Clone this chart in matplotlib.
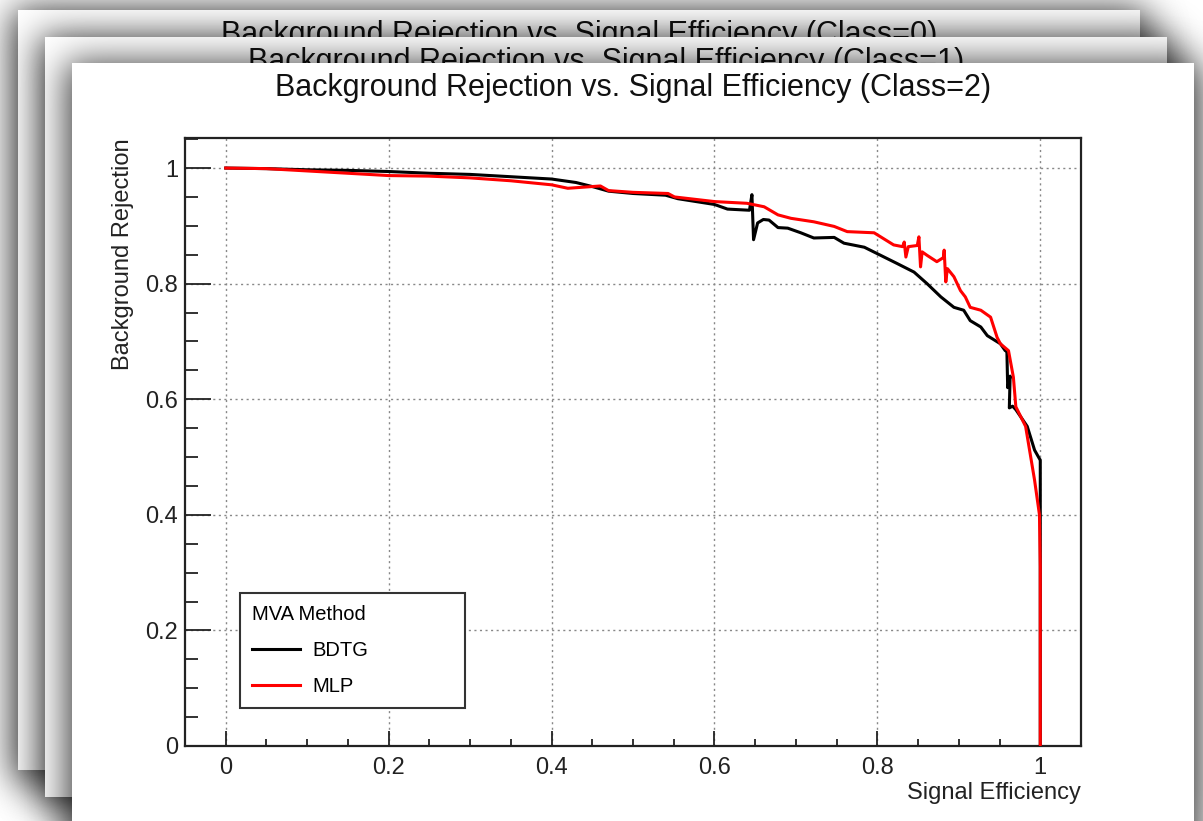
import numpy as np
import matplotlib
matplotlib.use("Agg")
import matplotlib.pyplot as plt
from matplotlib.patches import Rectangle
from matplotlib.ticker import MultipleLocator

# ROC curves
bdtg_x = [0.0, 0.05, 0.1, 0.15, 0.2, 0.25, 0.3, 0.35, 0.4, 0.43, 0.45, 0.47, 0.5, 0.54,
          0.555, 0.6, 0.616, 0.643, 0.646, 0.648, 0.653, 0.66, 0.667, 0.678, 0.69, 0.706,
          0.722, 0.747, 0.759, 0.784, 0.804, 0.824, 0.845, 0.861, 0.878, 0.894, 0.906,
          0.914, 0.927, 0.935, 0.951, 0.957, 0.959, 0.960, 0.963, 0.962, 0.966, 0.970,
          0.984, 0.993, 0.999, 1.0, 1.0]
bdtg_y = [1.0, 0.999, 0.997, 0.996, 0.994, 0.991, 0.989, 0.985, 0.981, 0.975, 0.968, 0.960,
          0.956, 0.953, 0.947, 0.937, 0.929, 0.927, 0.954, 0.876, 0.905, 0.911, 0.910, 0.897,
          0.896, 0.888, 0.879, 0.880, 0.870, 0.863, 0.849, 0.835, 0.820, 0.800, 0.777, 0.759,
          0.754, 0.736, 0.725, 0.710, 0.696, 0.684, 0.684, 0.620, 0.640, 0.585, 0.588, 0.582,
          0.553, 0.512, 0.497, 0.495, 0.0]

mlp_x = [0.0, 0.05, 0.1, 0.15, 0.2, 0.25, 0.3, 0.35, 0.4, 0.42, 0.46, 0.47, 0.5, 0.543,
         0.551, 0.6, 0.64, 0.661, 0.678, 0.694, 0.722, 0.747, 0.763, 0.796, 0.804, 0.820,
         0.831, 0.833, 0.835, 0.838, 0.849, 0.851, 0.853, 0.855, 0.861, 0.873, 0.881, 0.882,
         0.884, 0.886, 0.894, 0.902, 0.908, 0.914, 0.927, 0.939, 0.947, 0.951, 0.961, 0.967,
         0.970, 0.982, 0.993, 0.999, 1.0, 1.0]
mlp_y = [1.0, 0.999, 0.995, 0.991, 0.987, 0.986, 0.983, 0.978, 0.971, 0.965, 0.969, 0.961,
         0.958, 0.956, 0.950, 0.942, 0.939, 0.933, 0.919, 0.913, 0.907, 0.899, 0.890, 0.888,
         0.881, 0.867, 0.864, 0.872, 0.846, 0.864, 0.866, 0.881, 0.829, 0.855, 0.849, 0.838,
         0.845, 0.858, 0.803, 0.826, 0.812, 0.788, 0.777, 0.759, 0.754, 0.742, 0.707, 0.696,
         0.684, 0.638, 0.587, 0.553, 0.460, 0.400, 0.310, 0.0]

titles = ["Background Rejection vs. Signal Efficiency (Class=0)",
          "Background Rejection vs. Signal Efficiency (Class=1)",
          "Background Rejection vs. Signal Efficiency (Class=2)"]

W, H = 1203, 821
# card boxes in pixels: left, top, right, bottom
cards = [(18, 10, 1140, 770), (45, 37, 1167, 797), (72, 63, 1194, 900)]

font = "Liberation Sans"
plt.rcParams['font.family'] = [font, 'DejaVu Sans']

fig = plt.figure(figsize=(W / 100, H / 100), dpi=100)
fig.patch.set_facecolor("white")

bg = fig.add_axes([0, 0, 1, 1])
bg.set_xlim(0, W)
bg.set_ylim(H, 0)
bg.axis("off")


def blur1d(n, a, b, sigma, pad=200):
    m = np.zeros(n + 2 * pad)
    m[max(a + pad, 0):max(b + pad, 0)] = 1.0
    k = np.arange(-4 * sigma, 4 * sigma + 1)
    k = np.exp(-0.5 * (k / sigma) ** 2)
    k /= k.sum()
    return np.convolve(m, k, mode="same")[pad:pad + n]


z = 1
for (x0, y0, x1, y1), t in zip(cards, titles):
    grow = 6
    sx = blur1d(W, x0 - grow, x1 + grow, 18)
    sy = blur1d(H, y0 - grow + 5, y1 + grow + 5, 18)
    alpha = 0.75 * np.outer(sy, sx)
    img = np.zeros((H, W, 4))
    img[..., 3] = alpha
    bg.imshow(img, extent=(0, W, H, 0), aspect="auto", zorder=z, interpolation="bilinear")
    bg.add_patch(Rectangle((x0, y0), x1 - x0, y1 - y0, facecolor="white",
                           edgecolor="none", zorder=z + 1))
    bg.text((x0 + x1) / 2, y0 + 25, t, ha="center", va="center", fontsize=22,
            color="#111111", zorder=z + 2)
    z += 3

# main plot on the front card
ax = fig.add_axes([185 / W, 1 - 746 / H, 896 / W, 608 / H])
ax.set_zorder(20)
ax.set_facecolor("white")

ax.plot(bdtg_x, bdtg_y, color="black", lw=2.2, label="BDTG", zorder=3)
ax.plot(mlp_x, mlp_y, color="red", lw=2.2, label="MLP", zorder=4)

ax.set_xlim(-0.05, 1.05)
ax.set_ylim(0, 1.052)

ax.xaxis.set_minor_locator(MultipleLocator(0.05))
ax.yaxis.set_minor_locator(MultipleLocator(0.05))
ax.set_xticks([0, 0.2, 0.4, 0.6, 0.8, 1.0])
ax.set_xticklabels(["0", "0.2", "0.4", "0.6", "0.8", "1"])
ax.set_yticks([0, 0.2, 0.4, 0.6, 0.8, 1.0])
ax.set_yticklabels(["0", "0.2", "0.4", "0.6", "0.8", "1"])

ax.tick_params(axis="both", which="both", direction="in", top=False, right=False,
               labelsize=17, colors="#222222", width=1.3)
ax.tick_params(axis="x", which="major", length=10.8, pad=8)
ax.tick_params(axis="x", which="minor", length=5.4)
ax.tick_params(axis="y", which="major", length=19, pad=5)
ax.tick_params(axis="y", which="minor", length=9.7)

for s in ax.spines.values():
    s.set_linewidth(1.6)
    s.set_color("#222222")

ax.grid(True, which="major", linestyle=(0, (1.5, 2.5)), color="#888888", lw=1.0)
ax.set_axisbelow(True)

ax.set_xlabel("Signal Efficiency", fontsize=17, color="#222222", ha="right", x=1.0, labelpad=2)
ax.set_ylabel("Background Rejection", fontsize=17, color="#222222", ha="right", y=1.0,
              labelpad=8)

leg = ax.legend(title="MVA Method", loc="lower left",
                bbox_to_anchor=(240 / W, 1 - 708 / H, 225 / W, 113 / H),
                bbox_transform=fig.transFigure, mode="expand", borderaxespad=0,
                fancybox=False, edgecolor="#333333", fontsize=14.5, title_fontsize=14.5,
                alignment="left", handlelength=2.4, handletextpad=0.6,
                labelspacing=0.85, borderpad=0.6, framealpha=1)
leg.get_frame().set_linewidth(1.5)

fig.savefig("out.png", dpi=100)
